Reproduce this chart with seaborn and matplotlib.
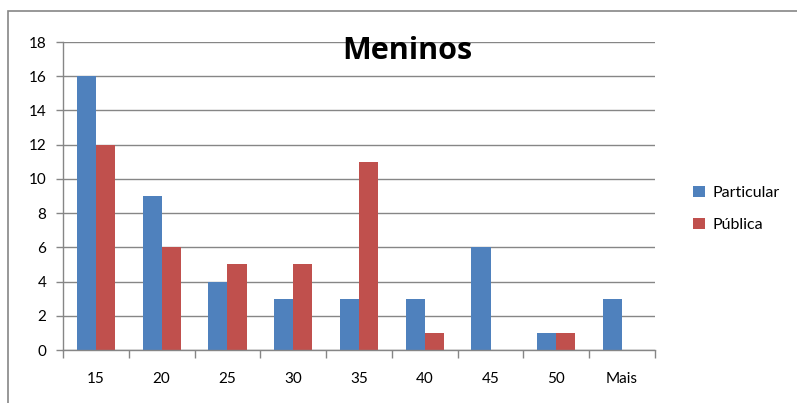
import matplotlib
matplotlib.use("Agg")
import matplotlib.pyplot as plt
import seaborn as sns
import pandas as pd
from matplotlib.patches import Rectangle, Patch

categories = ["15", "20", "25", "30", "35", "40", "45", "50", "Mais"]
particular = [16, 9, 4, 3, 3, 3, 6, 1, 3]
publica = [12, 6, 5, 5, 11, 1, 0, 1, 0]
series_names = ["Particular", "Pública"]
colors = ["#4F81BD", "#C0504D"]
title = "Meninos"
y_ticks = list(range(0, 19, 2))

df = pd.DataFrame({
    "cat": categories * 2,
    "val": particular + publica,
    "serie": [series_names[0]] * len(categories) + [series_names[1]] * len(categories),
})

sns.set_theme(style="white")
plt.rcParams["font.family"] = ["Lato", "DejaVu Sans"]
plt.rcParams["text.color"] = "black"
plt.rcParams["xtick.labelcolor"] = "black"
plt.rcParams["ytick.labelcolor"] = "black"

fig = plt.figure(figsize=(7.97, 4.03), dpi=100)
ax = fig.add_axes([63 / 797, 1 - 350 / 403, (655 - 63) / 797, (350 - 42) / 403])

sns.barplot(data=df, x="cat", y="val", hue="serie", palette=colors,
            width=0.58, ax=ax, legend=False, saturation=1, edgecolor="none")

ax.set_ylim(0, 18)
ax.set_xlim(-0.5, len(categories) - 0.5)
ax.set_yticks(y_ticks)
ax.set_yticklabels([str(t) for t in y_ticks], fontsize=11)
ax.set_xticks(range(len(categories)))
ax.set_xticklabels(categories, fontsize=11)
ax.set_xticks([i - 0.5 for i in range(len(categories) + 1)], minor=True)
ax.tick_params(axis="x", which="major", length=0, pad=16, labelcolor="black")
ax.tick_params(axis="x", which="minor", length=6, width=1, color="#868686", bottom=True)
ax.tick_params(axis="y", length=5, width=1, color="#868686", left=True, pad=7,
               labelcolor="black")
ax.set_xlabel("")
ax.set_ylabel("")

ax.yaxis.grid(True, color="#868686", linewidth=1)
ax.set_axisbelow(True)
for s in ["top", "right"]:
    ax.spines[s].set_visible(False)
for s in ["left", "bottom"]:
    ax.spines[s].set_color("#868686")
    ax.spines[s].set_linewidth(1)

fig.text(407 / 797, 1 - 59 / 403, title, fontsize=22, fontweight="bold",
         ha="center", va="baseline", color="black",
         family=["Open Sans", "DejaVu Sans"])

handles = [Patch(facecolor=c, edgecolor="none") for c in colors]
fig.legend(handles, series_names, loc="center left",
           bbox_to_anchor=(679 / 797, 1 - 209 / 403), frameon=False,
           fontsize=11.5, handlelength=0.7, handleheight=0.7,
           handletextpad=0.5, labelspacing=1.1, labelcolor="black")

fig.patches.append(Rectangle((8 / 797, -0.5), 2, (1 - 11 / 403) + 0.5,
                             transform=fig.transFigure, fill=False,
                             edgecolor="#868686", linewidth=1.2))

fig.savefig("out.png", dpi=100)
